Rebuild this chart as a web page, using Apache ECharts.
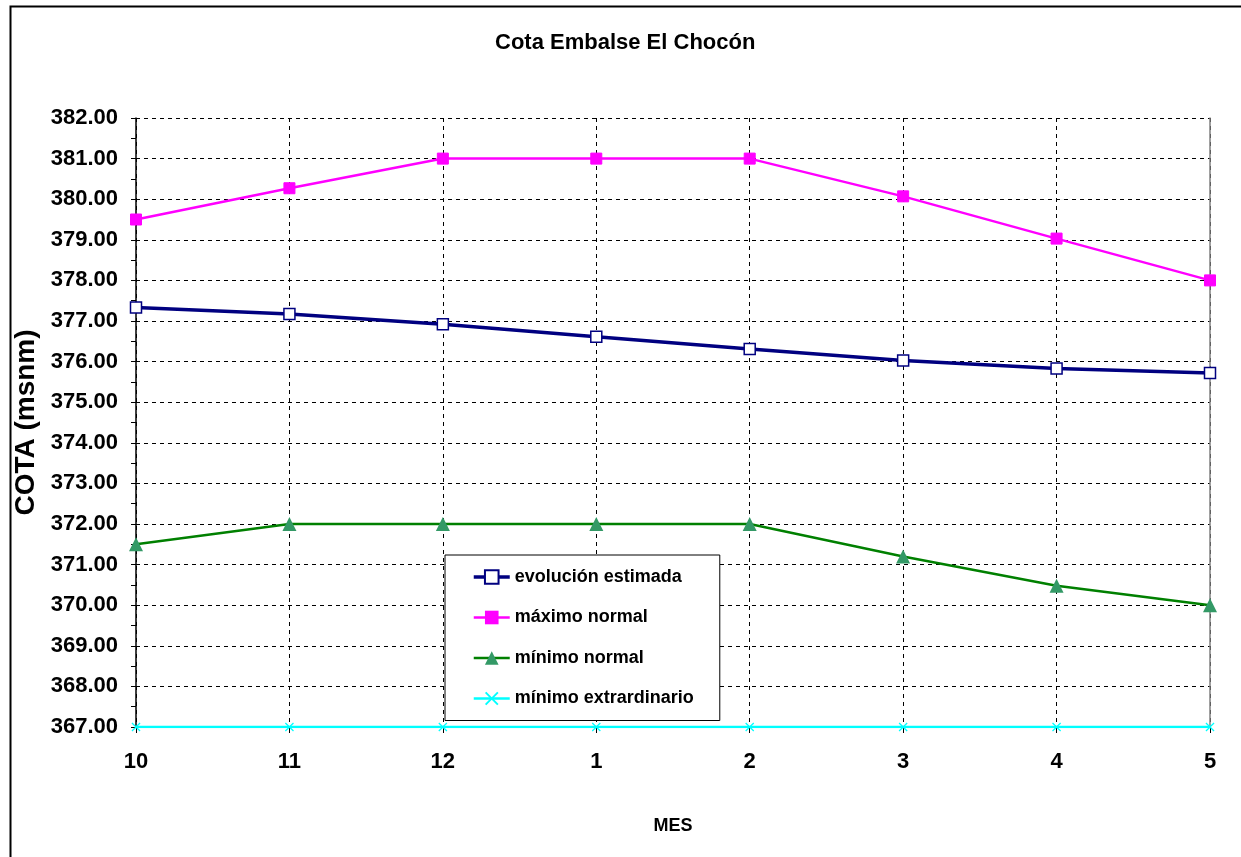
<!DOCTYPE html>
<html>
<head>
<meta charset="utf-8">
<script src="https://cdn.jsdelivr.net/npm/echarts@6/dist/echarts.min.js"></script>
<style>
html,body{margin:0;padding:0;background:#fff;}
#c{width:1241px;height:857px;}
</style>
</head>
<body>
<div id="c"></div>
<script>
const months = ['10','11','12','1','2','3','4','5'];
const evolucionEstimada = [377.33, 377.17, 376.92, 376.61, 376.31, 376.03, 375.83, 375.72];
const maximoNormal = [379.5, 380.27, 381.0, 381.0, 381.0, 380.07, 379.03, 378.0];
const minimoNormal = [371.5, 372.0, 372.0, 372.0, 372.0, 371.2, 370.48, 370.0];
const minimoExtraordinario = [367, 367, 367, 367, 367, 367, 367, 367];
const yMin = 367, yMax = 382, yStep = 1;

const FONT = "'Liberation Sans', Arial, sans-serif";
const chart = echarts.init(document.getElementById('c'), null, {renderer: 'canvas'});
const crossPath = 'path://M1,0L5,4L9,0L10,1L6,5L10,9L9,10L5,6L1,10L0,9L4,5L0,1Z';

chart.setOption({
  backgroundColor: '#ffffff',
  animation: false,
  graphic: [{
    type: 'rect', left: 8, top: 4, z: -10,
    shape: {width: 1250, height: 870},
    style: {fill: 'none', stroke: '#000', lineWidth: 2}
  }],
  title: {
    text: 'Cota Embalse El Chocón',
    left: 495, top: 32, padding: 0,
    textStyle: {fontFamily: FONT, fontWeight: 'bold', fontSize: 22, color: '#000'}
  },
  legend: {
    orient: 'vertical',
    left: 445, top: 555,
    padding: [13, 26, 13, 27],
    itemGap: 22.5,
    itemWidth: 36, itemHeight: 17,
    backgroundColor: '#fff',
    borderColor: '#000', borderWidth: 1,
    textStyle: {fontFamily: FONT, fontWeight: 'bold', fontSize: 18, color: '#000'},
    data: [
      {name: 'evolución estimada', lineStyle: {width: 3.5}},
      {name: 'máximo normal', lineStyle: {width: 2.5}},
      {name: 'mínimo normal', lineStyle: {width: 2.5}},
      {name: 'mínimo extrardinario', lineStyle: {width: 2.5}}
    ]
  },
  grid: {left: 136, top: 118, right: 31, bottom: 130, containLabel: false},
  xAxis: {
    type: 'category',
    data: months,
    boundaryGap: false,
    name: 'MES',
    nameLocation: 'middle',
    nameGap: 90,
    nameTextStyle: {fontFamily: FONT, fontWeight: 'bold', fontSize: 18, color: '#000'},
    axisLine: {show: true, lineStyle: {color: '#000', width: 1}},
    axisTick: {show: true, length: 6, lineStyle: {color: '#000'}},
    axisLabel: {fontFamily: FONT, fontWeight: 'bold', fontSize: 22, color: '#000', margin: 24},
    splitLine: {show: true, lineStyle: {color: '#000', type: [4, 4], width: 1}}
  },
  yAxis: [{
    type: 'value',
    min: yMin, max: yMax, interval: yStep,
    name: 'COTA (msnm)',
    nameLocation: 'middle',
    nameGap: 87,
    nameRotate: 90,
    nameTextStyle: {fontFamily: FONT, fontWeight: 'bold', fontSize: 28, color: '#000'},
    axisLine: {show: true, lineStyle: {color: '#000', width: 1.5}},
    axisTick: {show: true, length: 5, lineStyle: {color: '#000'}},
    minorTick: {show: true, splitNumber: 2, length: 5, lineStyle: {color: '#000'}},
    axisLabel: {
      fontFamily: FONT, fontWeight: 'bold', fontSize: 22, color: '#000', margin: 18,
      formatter: v => v.toFixed(2)
    },
    splitLine: {show: true, lineStyle: {color: '#000', type: [4, 4], width: 1}}
  }, {
    type: 'value', position: 'right',
    min: yMin, max: yMax, interval: yStep,
    axisLine: {show: true, lineStyle: {color: '#808080', width: 1.5}},
    axisTick: {show: false}, axisLabel: {show: false}, splitLine: {show: false}
  }],
  series: [
    {
      name: 'máximo normal', type: 'line', data: maximoNormal,
      symbol: 'rect', symbolSize: 11,
      lineStyle: {color: '#ff00ff', width: 2.5},
      itemStyle: {color: '#ff00ff', borderColor: '#ff00ff'},
      z: 3
    },
    {
      name: 'evolución estimada', type: 'line', data: evolucionEstimada,
      symbol: 'rect', symbolSize: 11,
      lineStyle: {color: '#000080', width: 3.5},
      itemStyle: {color: '#ffffff', borderColor: '#000080', borderWidth: 1.5},
      z: 4
    },
    {
      name: 'mínimo normal', type: 'line', data: minimoNormal,
      symbol: 'triangle', symbolSize: 14,
      lineStyle: {color: '#008000', width: 2.5},
      itemStyle: {color: '#339966', borderColor: '#339966', borderWidth: 0},
      z: 3
    },
    {
      name: 'mínimo extrardinario', type: 'line', data: minimoExtraordinario,
      symbol: crossPath, symbolSize: 9,
      lineStyle: {color: '#00ffff', width: 2.5},
      itemStyle: {color: '#00ffff'},
      z: 3
    }
  ]
});
</script>
</body>
</html>
